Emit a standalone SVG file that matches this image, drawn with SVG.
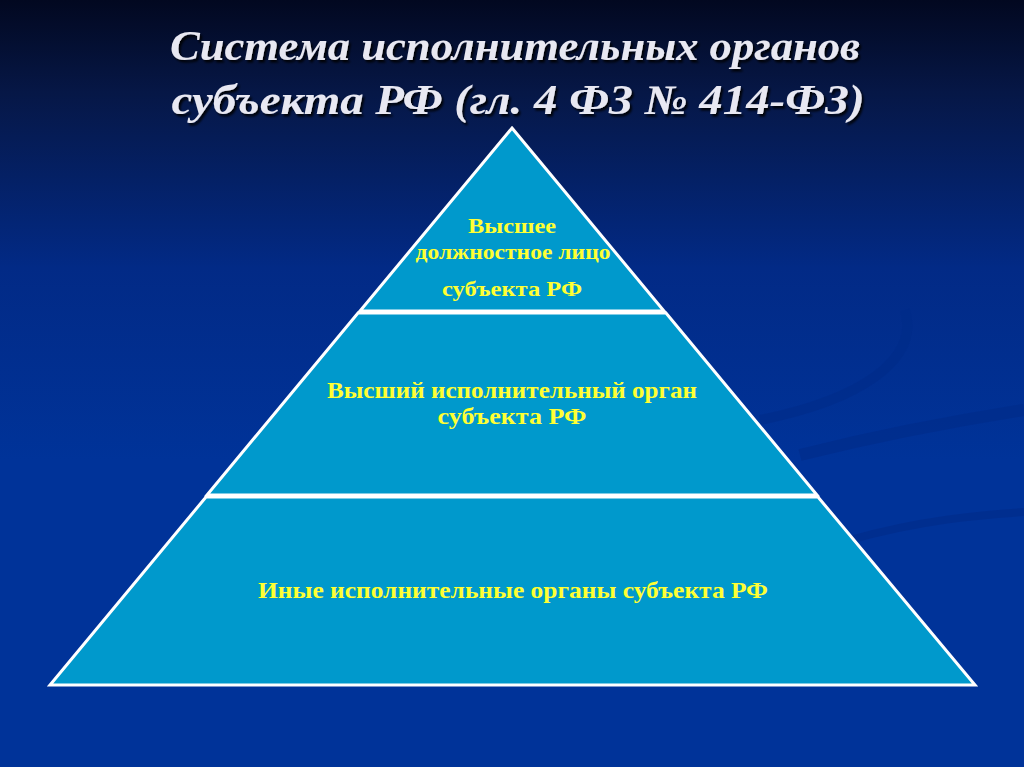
<svg xmlns="http://www.w3.org/2000/svg" width="1024" height="767" viewBox="0 0 1024 767">
<defs>
<linearGradient id="bg" x1="0" y1="0" x2="0" y2="1">
<stop offset="0" stop-color="#020820"/>
<stop offset="0.12" stop-color="#061746"/>
<stop offset="0.35" stop-color="#022a86"/>
<stop offset="0.6" stop-color="#003399"/>
<stop offset="1" stop-color="#003399"/>
</linearGradient>
<filter id="sh" x="-5%" y="-20%" width="110%" height="140%">
<feDropShadow dx="2" dy="2.5" stdDeviation="1.2" flood-color="#000000" flood-opacity="0.9"/>
</filter>
<style>
.tier{fill:#0099cc;stroke:#ffffff;stroke-width:3;stroke-linejoin:miter}
.title{font-family:"Liberation Serif","Times New Roman",serif;font-style:italic;font-weight:bold;font-size:42px;fill:#e8e8f2;text-anchor:middle}
.lbl{font-family:"Liberation Serif","Times New Roman",serif;font-weight:bold;fill:#ffff33;text-anchor:middle}
.swoosh{fill:none;stroke:#002b88;stroke-opacity:0.6}
</style>
</defs>
<rect x="0" y="0" width="1024" height="767" fill="url(#bg)"/>
<g id="decor">
<path class="swoosh" stroke-width="10" d="M760 420 C860 400 920 360 905 310"/>
<path class="swoosh" stroke-width="12" d="M800 455 C880 435 960 420 1024 410"/>
<path class="swoosh" stroke-width="8" d="M850 540 C920 520 980 515 1024 512"/>
</g>
<g id="title" filter="url(#sh)">
<text class="title" x="515" y="60" textLength="690" lengthAdjust="spacingAndGlyphs">Система исполнительных органов</text>
<text class="title" x="518" y="114" textLength="693" lengthAdjust="spacingAndGlyphs">субъекта РФ (гл. 4 ФЗ № 414-ФЗ)</text>
</g>
<g id="tier1">
<polygon class="tier" points="512,128 664,311 360,311"/>
<text class="lbl" font-size="21" x="512" y="233" textLength="88" lengthAdjust="spacingAndGlyphs">Высшее</text>
<text class="lbl" font-size="20" x="513" y="259" textLength="195" lengthAdjust="spacingAndGlyphs">должностное лицо</text>
<text class="lbl" font-size="21" x="512" y="296" textLength="140" lengthAdjust="spacingAndGlyphs">субъекта РФ</text>
</g>
<g id="tier2">
<polygon class="tier" points="358,313 666,313 817,495 207,495"/>
<text class="lbl" font-size="23" x="512" y="398" textLength="370" lengthAdjust="spacingAndGlyphs">Высший исполнительный орган</text>
<text class="lbl" font-size="23" x="512" y="424" textLength="149" lengthAdjust="spacingAndGlyphs">субъекта РФ</text>
</g>
<g id="tier3">
<polygon class="tier" points="206,497 818,497 975,685 50,685"/>
<text class="lbl" font-size="24" x="513" y="598" textLength="510" lengthAdjust="spacingAndGlyphs">Иные исполнительные органы субъекта РФ</text>
</g>
</svg>
